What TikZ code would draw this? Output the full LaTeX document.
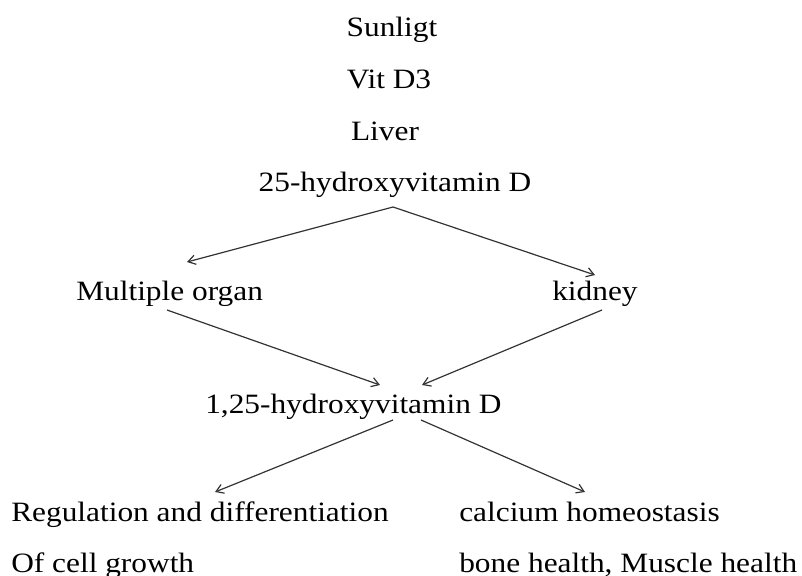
\documentclass[tikz,border=0pt]{standalone}
\usepackage{fontspec}
\setmainfont[FakeStretch=1.12]{Liberation Serif}
\usepackage{tikz}
\usetikzlibrary{arrows.meta,calc}

\tikzset{
	lbl/.style={inner sep=0pt, font=\fontsize{21}{25}\selectfont},
	arr/.style={-{Straight Barb[length=5.5pt,width=7pt]}, line width=0.9pt, color=black!80}
}

\begin{document}
\begin{tikzpicture}[x=0.75pt,y=0.75pt,yscale=-1]
	\useasboundingbox (0,0) rectangle (802,575);
	
	% vertical chain
	\node [lbl, anchor=base] (sun) at (392,36) {Sunligt};
	\node [lbl, anchor=base] (vitd) at (389,88) {Vit D3};
	\node [lbl, anchor=base] (liver) at (385,140) {Liver};
	\node [lbl, anchor=base] (hydA) at (395,191) {25-hydroxyvitamin D};
	
	% organs
	\node [lbl, anchor=base west] (multi) at (76,300) {Multiple organ};
	\node [lbl, anchor=base west] (kidney) at (552,300) {kidney};
	
	\node [lbl, anchor=base west] (hydB) at (205,413) {1,25-hydroxyvitamin D};
	
	% effects
	\node [lbl, anchor=base west] (regul) at (11,521) {Regulation and differentiation};
	\node [lbl, anchor=base west] (cell) at (11,572) {Of cell growth};
	\node [lbl, anchor=base west] (calc) at (459,521) {calcium homeostasis};
	\node [lbl, anchor=base west] (bone) at (459,572) {bone health, Muscle health};
	
	\draw [arr] ($(hydA.base)+(-2,16)$) -- ($(multi.base west)+(111,-38)$);
	\draw [arr] ($(hydA.base)+(-2,16)$) -- ($(kidney.base west)+(43,-25)$);
	
	\draw [arr] ($(multi.base west)+(91,10)$) -- ($(hydB.base west)+(175,-28)$);
	\draw [arr] ($(kidney.base west)+(50,10)$) -- ($(hydB.base west)+(217,-28)$);
	
	\draw [arr] ($(hydB.base west)+(188,7)$) -- ($(regul.base west)+(204,-29)$);
	\draw [arr] ($(hydB.base west)+(216,7)$) -- ($(calc.base west)+(126,-29)$);
	
\end{tikzpicture}
\end{document}
